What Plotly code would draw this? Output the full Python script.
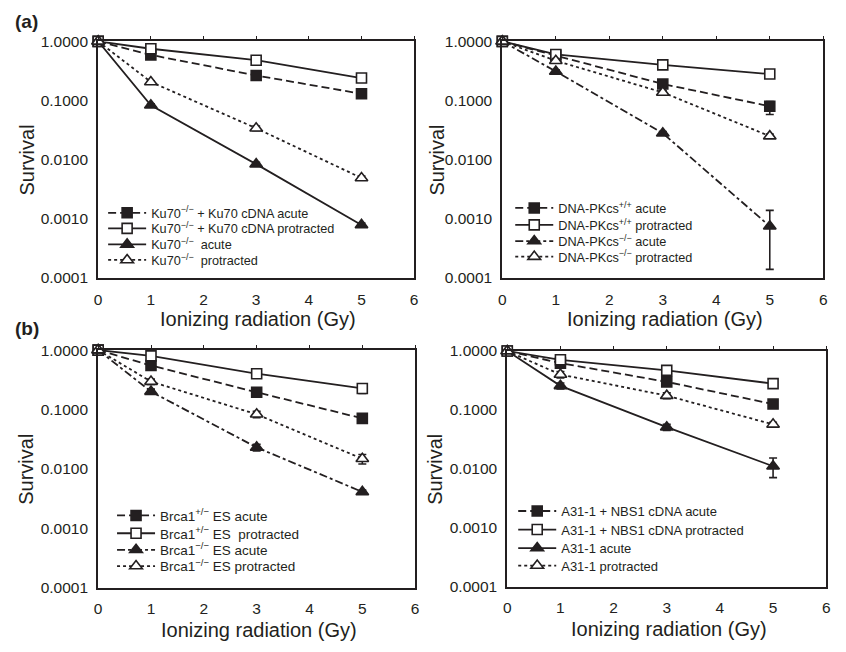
import plotly.graph_objects as go

# ---------------- data ----------------
dose = [0, 1, 3, 5]
x_ticks = [0, 1, 2, 3, 4, 5, 6]
y_tickvals = [1, 0.1, 0.01, 0.001, 0.0001]
y_ticktext = ["1.0000", "0.1000", "0.0100", "0.0010", "0.0001"]

# (a) left: Ku70
ku_wt_acute = [1.0, 0.59, 0.265, 0.130]
ku_wt_prot = [1.0, 0.75, 0.48, 0.24]
ku_ko_acute = [1.0, 0.083, 0.0084, 0.00079]
ku_ko_prot = [1.0, 0.206, 0.034, 0.0049]
ku_wt_acute_err = [0, 0.03, 0.04, 0.015]
ku_wt_prot_err = [0, 0.02, 0.02, 0.02]
ku_ko_acute_err = [0, 0.005, 0.0006, 0.00006]
ku_ko_prot_err = [0, 0.01, 0.003, 0.0004]

# (a) right: DNA-PKcs
pk_wt_acute = [1.0, 0.58, 0.19, 0.080]
pk_wt_prot = [1.0, 0.60, 0.40, 0.28]
pk_ko_acute = [1.0, 0.31, 0.028, 0.00075]
pk_ko_prot = [1.0, 0.47, 0.137, 0.025]
pk_wt_acute_err_hi = [0, 0.03, 0.02, 0.016]
pk_wt_acute_err_lo = [0, 0.03, 0.02, 0.022]
pk_wt_prot_err = [0, 0.02, 0.02, 0.015]
pk_ko_acute_err_hi = [0, 0.02, 0.002, 0.00064]
pk_ko_acute_err_lo = [0, 0.02, 0.002, 0.00061]
pk_ko_prot_err = [0, 0.04, 0.01, 0.002]

# (b) left: Brca1
br_het_acute = [1.0, 0.55, 0.195, 0.071]
br_het_prot = [1.0, 0.80, 0.40, 0.226]
br_ko_acute = [1.0, 0.20, 0.023, 0.0041]
br_ko_prot = [1.0, 0.295, 0.083, 0.0148]
br_het_acute_err = [0, 0.04, 0.015, 0.006]
br_het_prot_err = [0, 0.04, 0.03, 0.04]
br_ko_acute_err = [0, 0.02, 0.003, 0.0003]
br_ko_prot_err = [0, 0.03, 0.01, 0.0027]

# (b) right: A31-1 / NBS1
nb_wt_acute = [1.0, 0.625, 0.30, 0.126]
nb_wt_prot = [1.0, 0.71, 0.47, 0.28]
nb_ko_acute = [1.0, 0.257, 0.051, 0.0111]
nb_ko_prot = [1.0, 0.40, 0.175, 0.057]
nb_wt_acute_err = [0, 0.05, 0.02, 0.01]
nb_wt_prot_err = [0, 0.03, 0.02, 0.015]
nb_ko_acute_err_hi = [0, 0.03, 0.006, 0.0042]
nb_ko_acute_err_lo = [0, 0.03, 0.006, 0.004]
nb_ko_prot_err = [0, 0.05, 0.02, 0.005]

labels_ku = ["Ku70<sup>\u2212/\u2212</sup> + Ku70 cDNA acute",
             "Ku70<sup>\u2212/\u2212</sup> + Ku70 cDNA protracted",
             "Ku70<sup>\u2212/\u2212</sup>  acute",
             "Ku70<sup>\u2212/\u2212</sup>  protracted"]
labels_pk = ["DNA-PKcs<sup>+/+</sup> acute",
             "DNA-PKcs<sup>+/+</sup> protracted",
             "DNA-PKcs<sup>\u2212/\u2212</sup> acute",
             "DNA-PKcs<sup>\u2212/\u2212</sup> protracted"]
labels_br = ["Brca1<sup>+/\u2212</sup> ES acute",
             "Brca1<sup>+/\u2212</sup> ES  protracted",
             "Brca1<sup>\u2212/\u2212</sup> ES acute",
             "Brca1<sup>\u2212/\u2212</sup> ES protracted"]
labels_nb = ["A31-1 + NBS1 cDNA acute",
             "A31-1 + NBS1 cDNA protracted",
             "A31-1 acute",
             "A31-1 protracted"]

# ---------------- styling ----------------
W, H = 846, 652
OFF = 8  # default page body margin
INK = "#231f20"
FONT = "Liberation Sans, Arial, Helvetica, sans-serif"

def px(x):
    return (x - OFF) / W

def py(y):
    return 1 - (y - OFF) / H

DASH_LONG = "8px,4px"
DASH_DOT = "8px,3px,3px,3px"
DASH_SHORT = "3px,3px"

# panel geometry (screen pixels): left, right, top, bottom
panels = [
    (95, 414, 33, 276),
    (503, 827, 33, 276),
    (95, 415, 350, 594),
    (508, 830, 351, 593),
]

panel_series = [
    [
        (ku_wt_acute, ku_wt_acute_err, ku_wt_acute_err, labels_ku[0], "square", True, DASH_LONG),
        (ku_wt_prot, ku_wt_prot_err, ku_wt_prot_err, labels_ku[1], "square", False, "solid"),
        (ku_ko_acute, ku_ko_acute_err, ku_ko_acute_err, labels_ku[2], "triangle-up", True, "solid"),
        (ku_ko_prot, ku_ko_prot_err, ku_ko_prot_err, labels_ku[3], "triangle-up", False, DASH_SHORT),
    ],
    [
        (pk_wt_acute, pk_wt_acute_err_hi, pk_wt_acute_err_lo, labels_pk[0], "square", True, DASH_LONG),
        (pk_wt_prot, pk_wt_prot_err, pk_wt_prot_err, labels_pk[1], "square", False, "solid"),
        (pk_ko_acute, pk_ko_acute_err_hi, pk_ko_acute_err_lo, labels_pk[2], "triangle-up", True, DASH_DOT),
        (pk_ko_prot, pk_ko_prot_err, pk_ko_prot_err, labels_pk[3], "triangle-up", False, DASH_SHORT),
    ],
    [
        (br_het_acute, br_het_acute_err, br_het_acute_err, labels_br[0], "square", True, DASH_LONG),
        (br_het_prot, br_het_prot_err, br_het_prot_err, labels_br[1], "square", False, "solid"),
        (br_ko_acute, br_ko_acute_err, br_ko_acute_err, labels_br[2], "triangle-up", True, DASH_DOT),
        (br_ko_prot, br_ko_prot_err, br_ko_prot_err, labels_br[3], "triangle-up", False, DASH_SHORT),
    ],
    [
        (nb_wt_acute, nb_wt_acute_err, nb_wt_acute_err, labels_nb[0], "square", True, DASH_LONG),
        (nb_wt_prot, nb_wt_prot_err, nb_wt_prot_err, labels_nb[1], "square", False, "solid"),
        (nb_ko_acute, nb_ko_acute_err_hi, nb_ko_acute_err_lo, labels_nb[2], "triangle-up", True, "solid"),
        (nb_ko_prot, nb_ko_prot_err, nb_ko_prot_err, labels_nb[3], "triangle-up", False, DASH_SHORT),
    ],
]

# legend: text-start x, row centres y, font size
legend_rows = [
    (148, [213.3, 229.3, 245.7, 261.7], 12.7),
    (559, [208.3, 225.7, 242.3, 258.3], 12.7),
    (157, [524.0, 542.3, 559.3, 576.0], 13.5),
    (562, [519.3, 538.3, 557.3, 575.3], 13.0),
]
ITEMW = 38

fig = go.Figure()
layout = dict(
    width=W, height=H,
    margin=dict(l=0, r=0, t=0, b=0),
    paper_bgcolor="white", plot_bgcolor="white",
    font=dict(family=FONT, color=INK),
    showlegend=True,
)

leg_idx = 0
annotations = []
for p, (geo, series) in enumerate(zip(panels, panel_series)):
    k = p + 1
    xs = "" if k == 1 else str(k)
    l, r, t, b = geo
    for (vals, ehi, elo, name, sym, filled, dash) in series:
        leg_idx += 1
        legname = "legend" if leg_idx == 1 else f"legend{leg_idx}"
        fig.add_trace(go.Scatter(
            x=dose, y=vals, name=name, mode="lines+markers",
            xaxis="x" + xs, yaxis="y" + xs,
            line=dict(color=INK, width=1.8, dash=dash),
            marker=dict(symbol=sym, size=10 if sym == "square" else 11,
                        color=INK if filled else "white",
                        line=dict(color=INK, width=1.6)),
            error_y=dict(type="data", array=ehi, arrayminus=elo, symmetric=False,
                         color=INK, thickness=1.6, width=4),
            cliponaxis=False,
            legend=legname,
        ))
    fig.add_trace(go.Scatter(x=[None], y=[None], xaxis=f"x{k+4}", yaxis="y" + xs,
                             showlegend=False, hoverinfo="skip"))

    layout["xaxis" + xs] = dict(
        domain=[px(l), px(r)], anchor="y" + xs, range=[0, 6],
        tickvals=x_ticks, ticktext=[str(v) for v in x_ticks],
        showline=True, linecolor=INK, linewidth=2, mirror=True,
        showgrid=False, zeroline=False, ticks="",
        ticklabelstandoff=6,
        tickfont=dict(size=15.5, color=INK, family=FONT),
    )
    layout["yaxis" + xs] = dict(
        domain=[py(b), py(t)], anchor="x" + xs, type="log", range=[-4, 0],
        tickvals=y_tickvals, ticktext=y_ticktext,
        showline=True, linecolor=INK, linewidth=2, mirror=True,
        showgrid=False, zeroline=False, ticks="",
        ticklabelstandoff=5,
        tickfont=dict(size=15.5, color=INK, family=FONT),
    )
    layout[f"xaxis{k+4}"] = dict(
        overlaying="x" + xs, anchor="y" + xs, side="top", range=[0, 6],
        tickvals=x_ticks, showticklabels=False, ticks="outside", ticklen=4,
        tickwidth=1, tickcolor=INK, showgrid=False, zeroline=False, showline=False,
    )

    annotations.append(dict(text="Ionizing radiation (Gy)", xref="paper", yref="paper",
                            x=px((l + r) / 2 + 2), y=py([318, 318, 637, 636][p]),
                            xanchor="center", yanchor="middle", showarrow=False,
                            font=dict(size=20, color=INK, family=FONT)))
    annotations.append(dict(text="Survival", xref="paper", yref="paper",
                            x=px([23, 437, 22, 435][p]), y=py((t + b) / 2),
                            xanchor="center", yanchor="middle", textangle=-90,
                            showarrow=False, font=dict(size=20, color=INK, family=FONT)))

    tx, rows, fs = legend_rows[p]
    for j, ry in enumerate(rows):
        idx = p * 4 + j + 1
        key = "legend" if idx == 1 else f"legend{idx}"
        layout[key] = dict(
            x=px(tx - ITEMW - 10), y=py(ry - 4), xref="paper", yref="paper",
            xanchor="left", yanchor="middle",
            bgcolor="rgba(0,0,0,0)", borderwidth=0,
            itemwidth=ITEMW, font=dict(size=fs, color=INK, family=FONT),
            tracegroupgap=0, itemclick=False, itemdoubleclick=False,
        )

annotations.append(dict(text="<b>(a)</b>", xref="paper", yref="paper", x=px(9), y=py(13),
                        xanchor="left", yanchor="middle", showarrow=False,
                        font=dict(size=19, color=INK, family=FONT)))
annotations.append(dict(text="<b>(b)</b>", xref="paper", yref="paper", x=px(9), y=py(328),
                        xanchor="left", yanchor="middle", showarrow=False,
                        font=dict(size=19, color=INK, family=FONT)))
layout["annotations"] = annotations

fig.update_layout(**layout)
fig.write_html("out.html")
